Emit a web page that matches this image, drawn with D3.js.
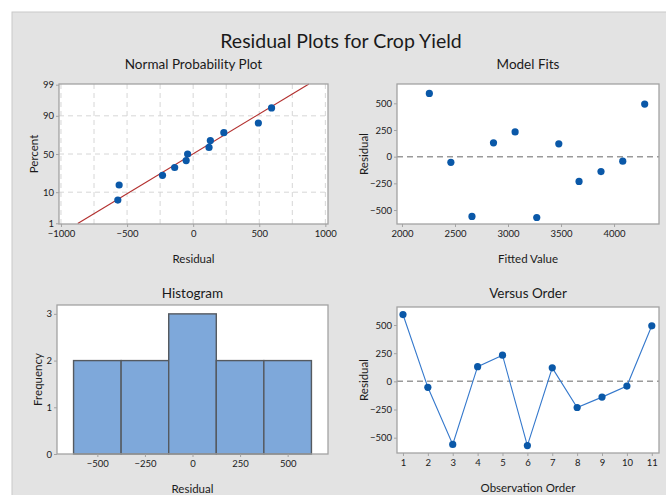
<!DOCTYPE html>
<html>
<head>
<meta charset="utf-8">
<script src="https://cdn.jsdelivr.net/npm/d3@7"></script>
<style>
  html, body { margin: 0; padding: 0; background: #ffffff; }
  svg { display: block; }
  text { font-family: Lato, "Open Sans", sans-serif; fill: #1a1a1a; }
</style>
</head>
<body>
<svg id="chart" width="666" height="495"></svg>
<script>
// ---------------- data ----------------
const chartTitle = "Residual Plots for Crop Yield";
const observationOrder = [1, 2, 3, 4, 5, 6, 7, 8, 9, 10, 11];
const residuals = [593, -53, -560, 130, 232, -570, 120, -232, -140, -42, 493];
const fittedValues = [2258, 2461, 2660, 2863, 3067, 3271, 3479, 3670, 3877, 4082, 4289];
// median-rank plotting positions (%) for the sorted residuals
const nppPercents = [6.1, 14.9, 23.7, 32.5, 41.2, 50.0, 58.8, 67.5, 76.3, 85.1, 93.9];
const nppPercentTicks = [1, 10, 50, 90, 99];
const nppResidualTicks = [-1000, -500, 0, 500, 1000];
const nppResidualGrid = [-1000, -750, -500, -250, 0, 250, 500, 750, 1000];
const nppPercentGrid = [10, 50, 90];
const fittedTicks = [2000, 2500, 3000, 3500, 4000];
const residualTicks = [-500, -250, 0, 250, 500];
const histBinEdges = [-625, -375, -125, 125, 375, 625];
const histCounts = [2, 2, 3, 2, 2];
const histXTicks = [-500, -250, 0, 250, 500];
const histYTicks = [0, 1, 2, 3];

// ---------------- helpers ----------------
function normInv(p) {
  // Acklam's rational approximation of the inverse normal CDF
  const a = [-3.969683028665376e+01, 2.209460984245205e+02, -2.759285104469687e+02, 1.383577518672690e+02, -3.066479806614716e+01, 2.506628277459239e+00];
  const b = [-5.447609879822406e+01, 1.615858368580409e+02, -1.556989798598866e+02, 6.680131188771972e+01, -1.328068155288572e+01];
  const c = [-7.784894002430293e-03, -3.223964580411365e-01, -2.400758277161838e+00, -2.549732539343734e+00, 4.374664141464968e+00, 2.938163982698783e+00];
  const d = [7.784695709041462e-03, 3.224671290700398e-01, 2.445134137142996e+00, 3.754408661907416e+00];
  const pl = 0.02425, ph = 1 - pl;
  let q, r;
  if (p < pl) {
    q = Math.sqrt(-2 * Math.log(p));
    return (((((c[0]*q+c[1])*q+c[2])*q+c[3])*q+c[4])*q+c[5]) / ((((d[0]*q+d[1])*q+d[2])*q+d[3])*q+1);
  } else if (p <= ph) {
    q = p - 0.5; r = q * q;
    return (((((a[0]*r+a[1])*r+a[2])*r+a[3])*r+a[4])*r+a[5])*q / (((((b[0]*r+b[1])*r+b[2])*r+b[3])*r+b[4])*r+1);
  } else {
    q = Math.sqrt(-2 * Math.log(1 - p));
    return -(((((c[0]*q+c[1])*q+c[2])*q+c[3])*q+c[4])*q+c[5]) / ((((d[0]*q+d[1])*q+d[2])*q+d[3])*q+1);
  }
}

const svg = d3.select("#chart");
const PANEL_BG = "#e3e3e3";
const FRAME = "#a3a3a3";
const DOT = "#0a58a8";
const TICK_FONT = 9.5;

// background panel
svg.append("rect").attr("x", 0).attr("y", 0).attr("width", 666).attr("height", 495).attr("fill", "#ffffff");
svg.append("rect").attr("x", 12).attr("y", 12).attr("width", 660).attr("height", 490)
  .attr("fill", PANEL_BG).attr("stroke", "#c9c9c9").attr("stroke-width", 1);

svg.append("text").attr("x", 341).attr("y", 40).attr("text-anchor", "middle")
  .attr("dominant-baseline", "central").attr("font-size", 19.5).text(chartTitle);

function panel(box, title, xTitle, yTitle, titleY, xTitleY, yTitleX) {
  const g = svg.append("g");
  g.append("rect").attr("x", box.x0).attr("y", box.y0)
    .attr("width", box.x1 - box.x0).attr("height", box.y1 - box.y0)
    .attr("fill", "#ffffff");
  g.append("text").attr("x", (box.x0 + box.x1) / 2).attr("y", titleY)
    .attr("text-anchor", "middle").attr("dominant-baseline", "central")
    .attr("font-size", 13.5).text(title);
  g.append("text").attr("x", (box.x0 + box.x1) / 2).attr("y", xTitleY)
    .attr("text-anchor", "middle").attr("dominant-baseline", "central")
    .attr("font-size", 11.5).text(xTitle);
  g.append("text").attr("transform", `translate(${yTitleX},${(box.y0 + box.y1) / 2}) rotate(-90)`)
    .attr("text-anchor", "middle").attr("dominant-baseline", "central")
    .attr("font-size", 11.5).text(yTitle);
  return g;
}
function frame(g, box) {
  g.append("rect").attr("x", box.x0).attr("y", box.y0)
    .attr("width", box.x1 - box.x0).attr("height", box.y1 - box.y0)
    .attr("fill", "none").attr("stroke", FRAME).attr("stroke-width", 1.3);
}
function styleAxis(sel) {
  sel.select(".domain").remove();
  sel.selectAll(".tick line").attr("stroke", FRAME);
  sel.selectAll(".tick text").attr("font-size", TICK_FONT)
    .attr("font-family", "Lato, 'Open Sans', sans-serif").attr("fill", "#1a1a1a");
}

// ---------------- Normal probability plot ----------------
{
  const box = {x0: 59, x1: 328, y0: 84, y1: 224};
  const g = panel(box, "Normal Probability Plot", "Residual", "Percent", 64, 258, 33);
  const x = d3.scaleLinear().domain([-1015, 1020]).range([box.x0, box.x1]);
  const y = d3.scaleLinear().domain([-2.35, 2.35]).range([box.y1, box.y0]);
  const grid = g.append("g").attr("stroke", "#d6d6d6").attr("stroke-dasharray", "5,4").attr("stroke-width", 1);
  grid.selectAll("line.v").data(nppResidualGrid).join("line")
    .attr("x1", d => x(d)).attr("x2", d => x(d)).attr("y1", box.y0).attr("y2", box.y1);
  grid.selectAll("line.h").data(nppPercentGrid).join("line")
    .attr("y1", d => y(normInv(d / 100))).attr("y2", d => y(normInv(d / 100)))
    .attr("x1", box.x0).attr("x2", box.x1);

  const mu = d3.mean(residuals), sd = d3.deviation(residuals);
  const zEnds = [-2.33, 2.35];
  g.append("line")
    .attr("x1", x(mu + sd * zEnds[0])).attr("y1", y(zEnds[0]))
    .attr("x2", x(mu + sd * zEnds[1])).attr("y2", y(zEnds[1]))
    .attr("stroke", "#b3302f").attr("stroke-width", 1.2);

  const sorted = residuals.slice().sort((a, b) => a - b);
  g.selectAll("circle").data(sorted).join("circle")
    .attr("cx", d => x(d)).attr("cy", (d, i) => y(normInv(nppPercents[i] / 100)))
    .attr("r", 3.6).attr("fill", DOT);
  frame(g, box);

  g.append("g").attr("transform", `translate(0,${box.y1})`)
    .call(d3.axisBottom(x).tickValues(nppResidualTicks).tickSize(3).tickPadding(3).tickFormat(d3.format("d")))
    .call(styleAxis);
  g.append("g").attr("transform", `translate(${box.x0},0)`)
    .call(d3.axisLeft(y).tickValues(nppPercentTicks.map(p => normInv(p / 100)))
      .tickSize(3).tickPadding(2).tickFormat((d, i) => nppPercentTicks[i]))
    .call(styleAxis);
}

// ---------------- Model fits ----------------
{
  const box = {x0: 397, x1: 659, y0: 84, y1: 224};
  const g = panel(box, "Model  Fits", "Fitted Value", "Residual", 64, 258, 363);
  const x = d3.scaleLinear().domain([1953, 4424]).range([box.x0, box.x1]);
  const y = d3.scaleLinear().domain([-631, 681]).range([box.y1, box.y0]);
  g.append("line").attr("x1", box.x0).attr("x2", box.x1).attr("y1", y(0)).attr("y2", y(0))
    .attr("stroke", "#9a9a9a").attr("stroke-width", 1.5).attr("stroke-dasharray", "6,4");
  g.selectAll("circle").data(residuals).join("circle")
    .attr("cx", (d, i) => x(fittedValues[i])).attr("cy", d => y(d))
    .attr("r", 3.6).attr("fill", DOT);
  frame(g, box);
  g.append("g").attr("transform", `translate(0,${box.y1})`)
    .call(d3.axisBottom(x).tickValues(fittedTicks).tickSize(3).tickPadding(3).tickFormat(d3.format("d")))
    .call(styleAxis);
  g.append("g").attr("transform", `translate(${box.x0},0)`)
    .call(d3.axisLeft(y).tickValues(residualTicks).tickSize(3).tickPadding(2).tickFormat(d3.format("d")))
    .call(styleAxis);
}

// ---------------- Histogram ----------------
{
  const box = {x0: 57, x1: 328, y0: 305, y1: 454};
  const g = panel(box, "Histogram", "Residual", "Frequency", 293, 488, 37);
  const x = d3.scaleLinear().domain([-712, 712]).range([box.x0, box.x1]);
  const y = d3.scaleLinear().domain([0, 3.19]).range([box.y1, box.y0]);
  g.selectAll("rect.bar").data(histCounts).join("rect").attr("class", "bar")
    .attr("x", (d, i) => x(histBinEdges[i])).attr("width", (d, i) => x(histBinEdges[i + 1]) - x(histBinEdges[i]))
    .attr("y", d => y(d)).attr("height", d => y(0) - y(d))
    .attr("fill", "#7ea8da").attr("stroke", "#555a60").attr("stroke-width", 1.4);
  frame(g, box);
  g.append("g").attr("transform", `translate(0,${box.y1})`)
    .call(d3.axisBottom(x).tickValues(histXTicks).tickSize(3).tickPadding(3).tickFormat(d3.format("d")))
    .call(styleAxis);
  g.append("g").attr("transform", `translate(${box.x0},0)`)
    .call(d3.axisLeft(y).tickValues(histYTicks).tickSize(3).tickPadding(2).tickFormat(d3.format("d")))
    .call(styleAxis);
}

// ---------------- Versus order ----------------
{
  const box = {x0: 397, x1: 659, y0: 307, y1: 453};
  const g = panel(box, "Versus Order", "Observation Order", "Residual", 293, 487, 363);
  const x = d3.scaleLinear().domain([0.76, 11.29]).range([box.x0, box.x1]);
  const y = d3.scaleLinear().domain([-636, 660]).range([box.y1, box.y0]);
  g.append("line").attr("x1", box.x0).attr("x2", box.x1).attr("y1", y(0)).attr("y2", y(0))
    .attr("stroke", "#9a9a9a").attr("stroke-width", 1.5).attr("stroke-dasharray", "6,4");
  const line = d3.line().x((d, i) => x(observationOrder[i])).y(d => y(d));
  g.append("path").datum(residuals).attr("d", line)
    .attr("fill", "none").attr("stroke", "#3478cc").attr("stroke-width", 1.1);
  g.selectAll("circle").data(residuals).join("circle")
    .attr("cx", (d, i) => x(observationOrder[i])).attr("cy", d => y(d))
    .attr("r", 3.6).attr("fill", DOT);
  frame(g, box);
  g.append("g").attr("transform", `translate(0,${box.y1})`)
    .call(d3.axisBottom(x).tickValues(observationOrder).tickSize(3).tickPadding(3).tickFormat(d3.format("d")))
    .call(styleAxis);
  g.append("g").attr("transform", `translate(${box.x0},0)`)
    .call(d3.axisLeft(y).tickValues(residualTicks).tickSize(3).tickPadding(2).tickFormat(d3.format("d")))
    .call(styleAxis);
}
</script>
</body>
</html>
